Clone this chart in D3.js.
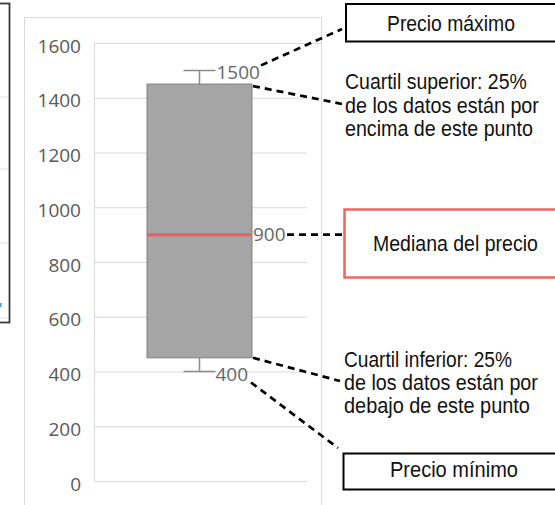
<!DOCTYPE html>
<html><head><meta charset="utf-8">
<script src="https://cdn.jsdelivr.net/npm/d3@7"></script>
<style>html,body{margin:0;padding:0;background:#fff;}svg{display:block;}</style>
</head><body><svg id="c" width="555" height="505"></svg>
<script>
// ---- data ----
const categories = ["Precio"];
const minValues = [400];
const q1Values = [450];
const medianValues = [900];
const q3Values = [1450];
const maxValues = [1500];
const yTicks = [0, 200, 400, 600, 800, 1000, 1200, 1400, 1600];
const titleMax = "Precio máximo";
const titleMin = "Precio mínimo";
const titleMedian = "Mediana del precio";
const upperNote = ["Cuartil superior: 25%", "de los datos están por", "encima de este punto"];
const lowerNote = ["Cuartil inferior: 25%", "de los datos están por", "debajo de este punto"];

// ---- layout ----
const svg = d3.select("#c");
const y = d3.scaleLinear().domain([0, 1600]).range([481, 43]);
const x = d3.scaleBand().domain(categories).range([94, 305]).paddingInner(0).paddingOuter(0.505);
const annFont = "'Liberation Sans', Arial, sans-serif";
const axFont = "'Open Sans', 'Noto Sans', sans-serif";

// left partial panel
const lp = svg.append("g");
[97, 169, 243, 318].forEach(v => lp.append("line").attr("x1", 0).attr("x2", 8).attr("y1", v).attr("y2", v).attr("stroke", "#e3e3e3").attr("stroke-width", 1));
lp.append("rect").attr("x", 0).attr("y", 303).attr("width", 1.5).attr("height", 4).attr("fill", "#4a90d9");
lp.append("rect").attr("x", -5).attr("y", 3.5).attr("width", 14.5).attr("height", 319).attr("fill", "none").attr("stroke", "#3c3c3c").attr("stroke-width", 1.8);

// chart frame
svg.append("rect").attr("x", 24.5).attr("y", 17.5).attr("width", 297).attr("height", 500).attr("fill", "none").attr("stroke", "#d9d9d9").attr("stroke-width", 1);

// grid
const grid = svg.append("g");
grid.selectAll("line.g").data(yTicks).join("line")
  .attr("x1", 95).attr("x2", d => d === 1600 ? 321 : 307)
  .attr("y1", d => y(d) + 0.5).attr("y2", d => y(d) + 0.5)
  .attr("stroke", "#d9d9d9").attr("stroke-width", 1);
grid.append("line").attr("x1", 94.5).attr("x2", 94.5).attr("y1", y(1600)).attr("y2", y(0) + 0.5).attr("stroke", "#d9d9d9");

// y axis labels
const yAxis = d3.axisLeft(y).tickValues(yTicks).tickFormat(d3.format("d")).tickSize(0).tickPadding(0);
const ax = svg.append("g").attr("transform", "translate(81,3)").call(yAxis);
ax.select(".domain").remove();
ax.selectAll("text").attr("font-family", axFont).attr("font-size", 19).attr("fill", "#595959");

// box plot
const i = 0;
const cx = x(categories[i]) + x.bandwidth() / 2;
const bx = x(categories[i]), bw = x.bandwidth();
const capHalf = 16;
const box = svg.append("g");
const wh = "#8a8a8a";
box.append("line").attr("x1", cx).attr("x2", cx).attr("y1", y(maxValues[i])).attr("y2", y(q3Values[i])).attr("stroke", wh).attr("stroke-width", 1.5);
box.append("line").attr("x1", cx).attr("x2", cx).attr("y1", y(q1Values[i])).attr("y2", y(minValues[i])).attr("stroke", wh).attr("stroke-width", 1.5);
box.append("line").attr("x1", cx - capHalf).attr("x2", cx + capHalf).attr("y1", y(maxValues[i])).attr("y2", y(maxValues[i])).attr("stroke", wh).attr("stroke-width", 1.5);
box.append("line").attr("x1", cx - capHalf).attr("x2", cx + capHalf).attr("y1", y(minValues[i])).attr("y2", y(minValues[i])).attr("stroke", wh).attr("stroke-width", 1.5);
box.append("rect").attr("x", bx).attr("y", y(q3Values[i])).attr("width", bw).attr("height", y(q1Values[i]) - y(q3Values[i]))
  .attr("fill", "#a5a5a5").attr("stroke", "#7f7f7f").attr("stroke-width", 1);
box.append("line").attr("x1", bx).attr("x2", bx + bw).attr("y1", y(medianValues[i])).attr("y2", y(medianValues[i])).attr("stroke", "#f05c5c").attr("stroke-width", 3);

// value labels
const lab = (t, xx, yy) => box.append("text").text(t).attr("x", xx).attr("y", yy).attr("dy", "0.36em")
  .attr("font-family", axFont).attr("font-size", 19).attr("fill", "#666666");
lab(String(maxValues[i]), cx + capHalf + 1, y(maxValues[i]) + 2);
lab(String(medianValues[i]), bx + bw + 1, y(medianValues[i]));
lab(String(minValues[i]), cx + capHalf, y(minValues[i]) + 3);

// dashed connectors
const dash = (x1, y1, x2, y2) => svg.append("line").attr("x1", x1).attr("y1", y1).attr("x2", x2).attr("y2", y2)
  .attr("stroke", "#000").attr("stroke-width", 2.7).attr("stroke-dasharray", "7,5");
dash(261, y(maxValues[i]) - 5, 342, 29);
dash(bx + bw + 1, y(q3Values[i]) + 2, 342, 104);
dash(287, y(medianValues[i]), 344, y(medianValues[i]));
dash(bx + bw + 1, y(q1Values[i]), 340, 381);
dash(251, y(minValues[i]) + 11, 338, 448);

// annotations (text squeezed horizontally to match the reference's narrow face)
const ann = svg.append("g");
const squeezed = (t, xx, yy, target, anchor) => {
  const g = ann.append("g");
  const tx = g.append("text").text(t).attr("x", 0).attr("y", 0)
    .attr("font-family", annFont).attr("font-size", 22.5).attr("fill", "#111");
  const w = tx.node().getComputedTextLength();
  const s = target / w;
  const left = anchor === "middle" ? xx - target / 2 : xx;
  g.attr("transform", `translate(${left},${yy}) scale(${s},1)`);
};
const boxNote = (bxx, byy, bww, bhh, col, sw, t, tx, ty, tl) => {
  ann.append("rect").attr("x", bxx).attr("y", byy).attr("width", bww).attr("height", bhh).attr("fill", "#fff").attr("stroke", col).attr("stroke-width", sw);
  squeezed(t, tx, ty, tl, "middle");
};
boxNote(346, 4, 215, 37.5, "#000", 2, titleMax, 451, 31, 128);
boxNote(344.5, 209.5, 215, 68, "#f06464", 2.5, titleMedian, 455.5, 251, 165);
boxNote(343.5, 453.5, 215, 36, "#000", 2, titleMin, 454, 476.5, 128);

const lines = (arr, xx, ys, lens) => arr.forEach((t, k) => squeezed(t, xx, ys[k], lens[k], "start"));
lines(upperNote, 345, [89, 112.7, 136.3], [182, 194, 188]);
lines(lowerNote, 344, [366.7, 390, 413.4], [168, 194, 186]);
</script></body></html>
